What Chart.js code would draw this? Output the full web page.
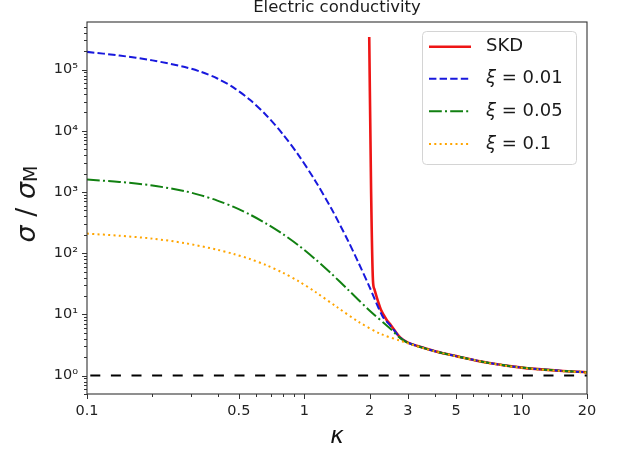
<!DOCTYPE html>
<html><head><meta charset="utf-8">
<script src="https://cdn.jsdelivr.net/npm/chart.js@4.4.1/dist/chart.umd.min.js"></script>
<style>html,body{margin:0;padding:0;background:#fff}#wrap{width:618px;height:453px}</style>
</head><body><div id="wrap"><canvas id="c" width="618" height="453"></canvas></div>
<script>
const titleText = 'Electric conductivity';
const xTitleText = 'κ';
const seriesLabels = ['SKD', 'ξ = 0.01', 'ξ = 0.05', 'ξ = 0.1'];

const kappaSKD = [1.99, 2.03, 2.07, 2.1, 2.15, 2.2, 2.25, 2.39, 2.5, 2.76, 3, 3.5, 4, 5, 7, 10, 15, 20];
const sigmaSKD = [3.4e5, 1000, 36, 26, 19.6, 15.1, 12, 8.2, 6.7, 4.2, 3.45, 2.87, 2.5, 2.08, 1.62, 1.35, 1.2, 1.13];

const kappaXi001 = [0.1, 0.141, 0.2, 0.282, 0.335, 0.398, 0.473, 0.562, 0.668, 0.794, 0.944, 1.122, 1.334, 1.585, 1.778, 1.995, 2.29, 2.5, 2.76, 3, 3.5, 4, 5, 7, 10, 15, 20];
const sigmaXi001 = [1.95e5, 1.70e5, 1.416e5, 1.10e5, 9.18e4, 7.16e4, 5.08e4, 3.21e4, 1.80e4, 8.93e3, 3.94e3, 1.53e3, 531, 163, 69.3, 28.2, 9.35, 6.46, 4.2, 3.45, 2.87, 2.5, 2.08, 1.62, 1.35, 1.2, 1.13];

const kappaXi005 = [0.1, 0.141, 0.2, 0.282, 0.335, 0.398, 0.473, 0.562, 0.668, 0.794, 0.944, 1.122, 1.334, 1.585, 1.995, 2.512, 2.76, 3, 3.5, 4, 5, 7, 10, 15, 20];
const sigmaXi005 = [1600, 1462, 1279, 1030, 881, 724, 570, 428, 305, 207, 133, 80.2, 46.1, 25.6, 11.6, 5.68, 4.1, 3.42, 2.86, 2.5, 2.08, 1.62, 1.35, 1.2, 1.13];

const kappaXi01 = [0.1, 0.141, 0.2, 0.282, 0.398, 0.473, 0.562, 0.668, 0.794, 0.944, 1.122, 1.413, 1.778, 2.239, 2.818, 3, 3.5, 4, 5, 7, 10, 15, 20];
const sigmaXi01 = [209, 193, 173, 146, 114, 97.0, 80.4, 63.8, 48.2, 34.6, 23.4, 13.2, 7.55, 4.82, 3.63, 3.36, 2.84, 2.49, 2.07, 1.61, 1.34, 1.19, 1.12];

const kappaRef = [0.1, 20];
const sigmaRef = [1, 1];

const xMajorTicks = [0.1, 0.5, 1, 2, 3, 5, 10, 20];
const xMinorTicks = [0.2, 0.3, 0.4, 0.6, 0.7, 0.8, 0.9, 4, 6, 7, 8, 9];
const yMajorTicks = [1, 10, 100, 1000, 10000, 100000];
const yMinorTicks = [0.5, 0.6, 0.7, 0.8, 0.9, 2, 3, 4, 5, 6, 7, 8, 9, 20, 30, 40, 50, 60, 70, 80, 90,
  200, 300, 400, 500, 600, 700, 800, 900, 2000, 3000, 4000, 5000, 6000, 7000, 8000, 9000,
  20000, 30000, 40000, 50000, 60000, 70000, 80000, 90000, 200000, 300000, 400000, 500000];

const colors = ['#ee1515', '#1818dd', '#118011', '#ffa500', '#000000'];
const dashes = [[], [7.4, 3.2], [12.8, 3.2, 2, 3.2], [2, 3.3], [10, 10.6]];
const widths = [2.6, 2, 2, 2, 2];

const pts = (xs, ys) => xs.map((v, i) => ({x: v, y: ys[i]}));
const SUP = {'-': '⁻', '0': '⁰', '1': '¹', '2': '²', '3': '³', '4': '⁴', '5': '⁵', '6': '⁶', '7': '⁷', '8': '⁸', '9': '⁹'};
const sup = n => String(n).split('').map(c => SUP[c]).join('');

Chart.defaults.font.family = '"DejaVu Sans"';

const decor = {
  id: 'decor',
  afterDraw(chart) {
    const {ctx, chartArea: a, scales: {x, y}} = chart;
    ctx.save();
    ctx.strokeStyle = '#333';
    ctx.lineWidth = 1.1;
    ctx.strokeRect(a.left, a.top, a.right - a.left, a.bottom - a.top);
    ctx.lineWidth = 1;
    ctx.beginPath();
    xMajorTicks.forEach(v => { const p = Math.round(x.getPixelForValue(v)) + 0.5; ctx.moveTo(p, a.bottom); ctx.lineTo(p, a.bottom + 5); });
    xMinorTicks.forEach(v => { const p = Math.round(x.getPixelForValue(v)) + 0.5; ctx.moveTo(p, a.bottom); ctx.lineTo(p, a.bottom + 3); });
    yMajorTicks.forEach(v => { const p = Math.round(y.getPixelForValue(v)) + 0.5; ctx.moveTo(a.left, p); ctx.lineTo(a.left - 5, p); });
    yMinorTicks.forEach(v => { const p = Math.round(y.getPixelForValue(v)) + 0.5; ctx.moveTo(a.left, p); ctx.lineTo(a.left - 3, p); });
    ctx.stroke();
    // title
    ctx.fillStyle = '#1a1a1a';
    ctx.font = '16.5px "DejaVu Sans"';
    ctx.textAlign = 'center';
    ctx.textBaseline = 'alphabetic';
    ctx.fillText(titleText, (a.left + a.right) / 2, 12);
    // y title: sigma / sigma_M
    ctx.save();
    ctx.translate(35, (a.top + a.bottom) / 2 - 4);
    ctx.rotate(-Math.PI / 2);
    const parts = [['σ', 'italic 27px "DejaVu Sans"', 0], [' / ', '27px "DejaVu Sans"', 0], ['σ', 'italic 27px "DejaVu Sans"', 0], ['M', '19px "DejaVu Sans"', 2]];
    let total = 0;
    parts.forEach(p => { ctx.font = p[1]; p.push(ctx.measureText(p[0]).width); total += p[3]; });
    let cx = -total / 2;
    ctx.textAlign = 'left';
    parts.forEach(p => { ctx.font = p[1]; ctx.fillText(p[0], cx, p[2]); cx += p[3]; });
    ctx.restore();
    // legend
    const lx = 422.5, ly = 31.5, lw = 154, lh = 133, r = 4;
    ctx.beginPath();
    ctx.moveTo(lx + r, ly); ctx.lineTo(lx + lw - r, ly); ctx.arcTo(lx + lw, ly, lx + lw, ly + r, r);
    ctx.lineTo(lx + lw, ly + lh - r); ctx.arcTo(lx + lw, ly + lh, lx + lw - r, ly + lh, r);
    ctx.lineTo(lx + r, ly + lh); ctx.arcTo(lx, ly + lh, lx, ly + lh - r, r);
    ctx.lineTo(lx, ly + r); ctx.arcTo(lx, ly, lx + r, ly, r);
    ctx.closePath();
    ctx.fillStyle = 'rgba(255,255,255,0.8)';
    ctx.fill();
    ctx.strokeStyle = '#d4d4d4';
    ctx.lineWidth = 1;
    ctx.stroke();
    const rows = [46.7, 78.7, 111.3, 144];
    seriesLabels.forEach((lab, i) => {
      const yy = rows[i];
      ctx.beginPath();
      ctx.setLineDash(dashes[i]);
      ctx.strokeStyle = colors[i];
      ctx.lineWidth = widths[i];
      ctx.moveTo(429, yy); ctx.lineTo(471, yy);
      ctx.stroke();
      ctx.setLineDash([]);
      ctx.fillStyle = '#1a1a1a';
      ctx.textBaseline = 'middle';
      ctx.textAlign = 'left';
      let tx = 486;
      if (lab.startsWith('ξ')) {
        ctx.font = 'italic 18px "DejaVu Sans"';
        ctx.fillText('ξ', tx, yy);
        tx += ctx.measureText('ξ').width;
        ctx.font = '18px "DejaVu Sans"';
        ctx.fillText(lab.slice(1), tx, yy);
      } else {
        ctx.font = '18px "DejaVu Sans"';
        ctx.fillText(lab, tx, yy);
      }
    });
    ctx.restore();
  }
};

const mk = (label, xs, ys, i, order, tension, mode) => ({
  label, data: pts(xs, ys), borderColor: colors[i], borderWidth: widths[i], borderDash: dashes[i],
  pointRadius: 0, fill: false, order,
  tension, cubicInterpolationMode: mode, borderCapStyle: 'butt'
});

const datasets = [
  Object.assign(mk('reference', kappaRef, sigmaRef, 4, 0, 0, 'default'), {borderDashOffset: 17.3}),
  mk(seriesLabels[3], kappaXi01, sigmaXi01, 3, 1, 0.3, 'default'),
  mk(seriesLabels[2], kappaXi005, sigmaXi005, 2, 2, 0.3, 'default'),
  mk(seriesLabels[1], kappaXi001, sigmaXi001, 1, 3, 0.3, 'default'),
  mk(seriesLabels[0], kappaSKD, sigmaSKD, 0, 4, 0, 'monotone')
];

new Chart(document.getElementById('c'), {
  type: 'line',
  data: {datasets},
  options: {
    responsive: false,
    animation: false,
    layout: {padding: {top: 22, right: 31, left: 0, bottom: 0}},
    plugins: {legend: {display: false}, tooltip: {enabled: false}, title: {display: false}},
    scales: {
      x: {
        type: 'logarithmic', min: 0.1, max: 20, position: 'bottom',
        afterBuildTicks(s) { s.ticks = xMajorTicks.map(v => ({value: v})); },
        afterFit(s) { s.height = 59; },
        grid: {display: false, drawTicks: true, tickLength: 5},
        border: {display: false},
        ticks: {autoSkip: false, maxRotation: 0, padding: 4, color: '#222', font: {size: 14.5}, callback: v => String(v)},
        title: {display: true, text: xTitleText, color: '#111', font: {style: 'italic', size: 23, lineHeight: 1}, padding: {top: 0, bottom: 4}}
      },
      y: {
        type: 'logarithmic', min: 0.5, max: 6e5, position: 'left',
        afterBuildTicks(s) { s.ticks = yMajorTicks.map(v => ({value: v})); },
        afterFit(s) { s.width = 87; },
        grid: {display: false, drawTicks: true, tickLength: 5},
        border: {display: false},
        ticks: {autoSkip: false, padding: 4, color: '#222', font: {size: 14.5}, callback: v => '10' + sup(Math.round(Math.log10(v)))}
      }
    }
  },
  plugins: [decor]
});
</script></body></html>
